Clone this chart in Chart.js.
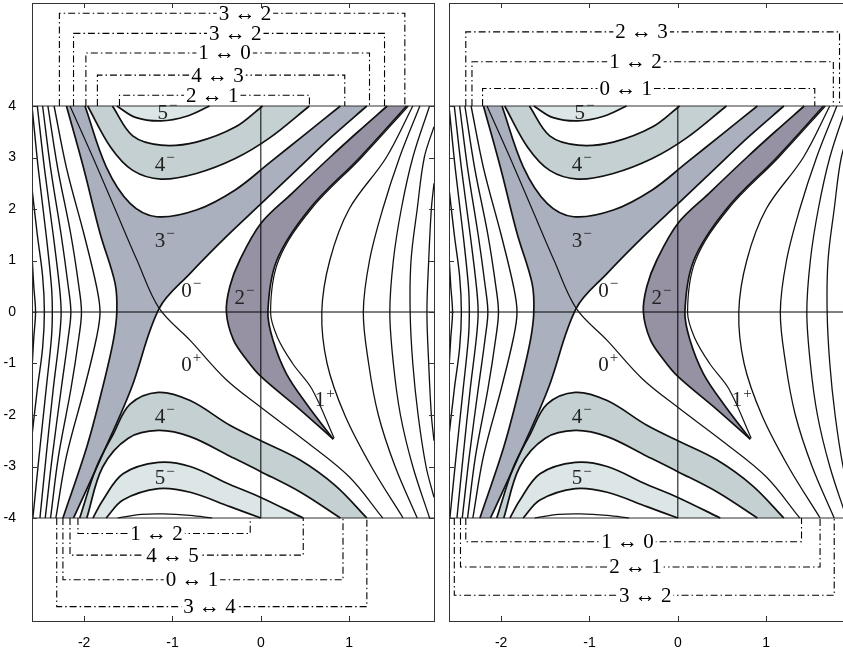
<!DOCTYPE html>
<html>
<head>
<meta charset="utf-8">
<script src="https://cdn.jsdelivr.net/npm/chart.js@4.4.1/dist/chart.umd.min.js"></script>
<style>
  html, body { margin: 0; padding: 0; background: #fff; overflow: hidden; }
  #wrap { position: relative; width: 843px; height: 651px; overflow: hidden; }
  #leftChart { position: absolute; left: 0; top: 0; }
  #rightChart { position: absolute; left: 440px; top: 0; }
</style>
</head>
<body>
<div id="wrap">
  <canvas id="leftChart" width="440" height="651"></canvas>
  <canvas id="rightChart" width="414" height="651"></canvas>
</div>
<script>
// axes
const xTicks = [-2, -1, 0, 1];
const yTicks = [-4, -3, -2, -1, 0, 1, 2, 3, 4];
const xRange = [-2.59, 1.96];
const yRange = [-6, 6];

// thin contour lines, left side
const leftFamily = [
  [[-2.59, 1.1], [-2.57, 0.5], [-2.55, 0], [-2.57, -0.5], [-2.59, -1.1]],
  [[-2.59, 2.4], [-2.53, 1.5], [-2.47, 0.7], [-2.45, 0], [-2.47, -0.7], [-2.53, -1.5], [-2.59, -2.4]],
  [[-2.59, 4], [-2.52, 2.8], [-2.43, 1.5], [-2.37, 0.5], [-2.36, 0], [-2.37, -0.5], [-2.43, -1.5], [-2.51, -2.8], [-2.58, -4]],
  [[-2.53, 4], [-2.45, 2.8], [-2.35, 1.5], [-2.28, 0.5], [-2.26, 0], [-2.28, -0.5], [-2.35, -1.5], [-2.43, -2.8], [-2.5, -4]],
  [[-2.47, 4], [-2.38, 2.8], [-2.26, 1.5], [-2.18, 0.5], [-2.15, 0], [-2.18, -0.5], [-2.26, -1.5], [-2.36, -2.8], [-2.44, -4]],
  [[-2.41, 4], [-2.3, 2.8], [-2.15, 1.5], [-2.06, 0.5], [-2.03, 0], [-2.06, -0.5], [-2.15, -1.5], [-2.29, -2.8], [-2.38, -4]],
  [[-2.34, 4], [-2.2, 2.8], [-2.0, 1.5], [-1.86, 0.5], [-1.82, 0], [-1.86, -0.5], [-2.0, -1.5], [-2.2, -2.8], [-2.32, -4]]
];

// thin contour lines, right side
const rightFamily = [
  [[1.72, 4], [1.42, 3], [1.0, 2], [0.78, 1], [0.69, 0], [0.75, -1], [0.95, -2], [1.25, -3], [1.61, -4]],
  [[1.8, 4], [1.57, 3], [1.38, 2], [1.23, 1], [1.16, 0], [1.22, -1], [1.33, -2], [1.52, -3], [1.77, -4]],
  [[1.91, 4], [1.72, 3], [1.59, 2], [1.5, 1], [1.46, 0], [1.5, -1], [1.58, -2], [1.72, -3], [1.91, -4]],
  [[1.96, 3.6], [1.85, 3], [1.77, 2], [1.7, 1], [1.69, 0], [1.72, -1], [1.78, -2], [1.87, -3], [1.96, -3.6]],
  [[1.96, 2.5], [1.93, 2], [1.9, 1], [1.88, 0], [1.9, -1], [1.93, -2], [1.96, -2.5]]
];

// boundaries of the shaded regions
const GL = [[-2.2, 4], [-2.01, 2.82], [-1.82, 1.53], [-1.65, 0.56], [-1.63, 0], [-1.67, -0.56], [-1.8, -1.53], [-1.97, -2.62], [-2.24, -4]];
const L2 = [[-2.12, -4], [-1.8, -2.8], [-1.47, -1.5], [-1.15, 0.07], [-0.8, 0.75], [-0.4, 1.45], [0, 2.1], [0.4, 2.75], [0.8, 3.4], [1.2, 4]];
const L1 = [[-2.16, 4], [-1.9, 3], [-1.65, 2], [-1.4, 1], [-1.15, 0.07], [-0.8, -0.55], [-0.4, -1.3], [0, -1.85], [0.5, -2.5], [1.0, -3.2], [1.38, -4]];
const U3 = [[-1.99, 4], [-1.75, 2.82], [-1.48, 2.11], [-1.18, 1.85], [-0.73, 1.98], [-0.29, 2.37], [0.1, 2.9], [0.5, 3.45], [0.9, 4]];
const U4b = [[-1.96, 4], [-1.7, 3.2], [-1.45, 2.75], [-1.13, 2.58], [-0.73, 2.69], [-0.29, 2.98], [0.1, 3.38], [0.55, 4]];
const U4a = [[-1.68, 4], [-1.45, 3.42], [-1.13, 3.24], [-0.73, 3.3], [-0.29, 3.59], [0.02, 4]];
const U5 = [[-1.63, 4], [-1.42, 3.78], [-1.13, 3.71], [-0.84, 3.8], [-0.58, 4]];
const B1 = [[1.43, 4], [1.1, 3.5], [0.78, 3.0], [0.35, 2.3], [0, 1.72], [-0.24, 1.0], [-0.35, 0.5], [-0.39, 0], [-0.31, -0.54], [-0.15, -0.95], [0, -1.25], [0.44, -1.89], [0.82, -2.47]];
const B2 = [[1.65, 4], [1.12, 3], [0.55, 2], [0.18, 1], [0.08, 0], [0.14, -0.56], [0.29, -1.2], [0.52, -1.79], [0.82, -2.47]];
const B3 = [[1.67, 4], [1.14, 3], [0.57, 2], [0.2, 1], [0.11, 0], [0.19, -0.5], [0.36, -1.0], [0.58, -1.5], [0.83, -2.45]];
const D4a = [[-2.05, -4], [-1.86, -3.01], [-1.67, -2.37], [-1.48, -1.79], [-1.16, -1.56], [-0.8, -1.72], [-0.35, -2.2], [0, -2.5], [0.44, -2.87], [0.85, -3.38], [1.2, -4]];
const D4b = [[-1.97, -4], [-1.79, -3.01], [-1.5, -2.45], [-1.16, -2.3], [-0.8, -2.42], [-0.35, -2.8], [0, -3.1], [0.45, -3.5], [0.9, -4]];
const D5a = [[-1.9, -4], [-1.79, -3.66], [-1.56, -3.14], [-1.16, -2.92], [-0.8, -3.0], [-0.35, -3.35], [0, -3.6], [0.48, -4]];
const D5b = [[-1.75, -4], [-1.56, -3.65], [-1.16, -3.43], [-0.8, -3.5], [-0.35, -3.78], [0, -4]];
const D6 = [[-1.62, -4], [-1.35, -3.93], [-1.1, -3.92], [-0.8, -3.95], [-0.55, -4]];

// region labels
const regionNames = ['5', '4', '3', '0', '2', '0', '1', '4', '5'];
const regionSigns = ['\u2212', '\u2212', '\u2212', '\u2212', '\u2212', '+', '+', '\u2212', '\u2212'];
const regionAt = [[-1.11, 3.86], [-1.14, 2.85], [-1.14, 1.37], [-0.84, 0.4], [-0.24, 0.27], [-0.84, -1.04], [0.67, -1.72], [-1.14, -2.04], [-1.14, -3.24]];

// brackets: [text, level, from, to, text position]
const leftTop = [
  ['3 \u2194 2', 5.80, -2.28, 1.63, -0.18],
  ['3 \u2194 2', 5.41, -2.12, 1.40, -0.29],
  ['1 \u2194 0', 5.03, -1.98, 1.23, -0.41],
  ['4 \u2194 3', 4.60, -1.85, 0.95, -0.49],
  ['2 \u2194 1', 4.21, -1.60, 0.55, -0.55]
];
const leftBottom = [
  ['1 \u2194 2', -4.30, -2.07, -0.12, -1.18],
  ['4 \u2194 5', -4.72, -2.16, 0.48, -1.0],
  ['0 \u2194 1', -5.20, -2.24, 0.93, -0.78],
  ['3 \u2194 4', -5.72, -2.31, 1.20, -0.58]
];
const rightTop = [
  ['2 \u2194 3', 5.44, -2.40, 1.83, -0.41],
  ['1 \u2194 2', 4.86, -2.33, 1.76, -0.48],
  ['0 \u2194 1', 4.34, -2.21, 1.55, -0.59]
];
const rightBottom = [
  ['1 \u2194 0', -4.46, -2.40, 1.40, -0.57],
  ['2 \u2194 1', -4.95, -2.46, 1.61, -0.48],
  ['3 \u2194 2', -5.50, -2.53, 1.77, -0.37]
];

const fill2 = '#9692a3';
const fill3 = '#aab0be';
const fill4 = '#c5d0d3';
const fill5 = '#dde6e6';

const xy = pts => pts.map(([x, y]) => ({x, y}));
const rev = pts => pts.slice().reverse();

// closed outline from several boundary pieces; end points doubled so corners stay sharp
function closedShape(...parts) {
    const out = [];
    parts.forEach(p => { out.push(p[0], ...p, p[p.length - 1]); });
    return xy(out);
}

function buildDatasets(top, bottom) {
    const sets = [];
    const shade = (color, ...parts) => sets.push({
        data: closedShape(...parts), fill: 'shape', backgroundColor: color,
        borderWidth: 0, pointRadius: 0, tension: 0.35, order: 3
    });
    const curve = (pts, width) => sets.push({
        data: xy(pts), fill: false, borderColor: '#111', borderWidth: width,
        pointRadius: 0, tension: 0.35, order: 2
    });
    const straight = (pts, width, color) => sets.push({
        data: xy(pts), fill: false, borderColor: color, borderWidth: width,
        pointRadius: 0, tension: 0, order: 2
    });
    const bracket = ([, level, from, to]) => {
        const edge = level > 0 ? 4 : -4;
        sets.push({
            data: xy([[from, edge], [from, level], [to, level], [to, edge]]),
            fill: false, borderColor: '#000', borderWidth: 1.1, borderDash: [7, 3, 1.5, 3],
            pointRadius: 0, tension: 0, order: 1
        });
    };

    shade(fill3, GL, L2, rev(U3));
    shade(fill4, U4b, rev(U4a));
    shade(fill5, U5);
    shade(fill2, B1, rev(B2));
    shade(fill4, D4a, rev(D4b));
    shade(fill5, D5a, rev(D5b));

    leftFamily.forEach(c => curve(c, 1.4));
    rightFamily.forEach(c => curve(c, 1.3));
    [L1, B3, D6].forEach(c => curve(c, 1.2));
    [GL, L2, U3, U4a, U4b, U5, B1, B2, D4a, D4b, D5a, D5b].forEach(c => curve(c, 1.7));

    straight([[0, -4], [0, 4]], 1, '#000');
    straight([[xRange[0], 0], [xRange[1], 0]], 1, '#000');
    straight([[xRange[0], 4], [xRange[1], 4]], 1, '#333');
    straight([[xRange[0], -4], [xRange[1], -4]], 1, '#333');

    top.forEach(bracket);
    bottom.forEach(bracket);
    return sets;
}

const framePlugin = {
    id: 'frame',
    afterDraw(chart) {
        const {ctx, chartArea: a, scales: {x, y}} = chart;
        ctx.save();
        ctx.strokeStyle = '#333';
        ctx.lineWidth = 1;
        ctx.beginPath();
        xTicks.forEach(v => {
            const px = Math.round(x.getPixelForValue(v)) + 0.5;
            ctx.moveTo(px, a.bottom); ctx.lineTo(px, a.bottom - 5);
            ctx.moveTo(px, a.top); ctx.lineTo(px, a.top + 5);
        });
        yTicks.forEach(v => {
            const py = Math.round(y.getPixelForValue(v)) + 0.5;
            ctx.moveTo(a.left, py); ctx.lineTo(a.left + 5, py);
            ctx.moveTo(a.right, py); ctx.lineTo(a.right - 5, py);
        });
        ctx.stroke();
        ctx.strokeRect(Math.round(a.left) + 0.5, Math.round(a.top) + 0.5,
            Math.round(a.right - a.left), Math.round(a.bottom - a.top));
        ctx.restore();
    }
};

const labelPlugin = {
    id: 'labels',
    afterDatasetsDraw(chart, args, opts) {
        const {ctx, scales: {x, y}} = chart;
        ctx.save();
        ctx.textBaseline = 'middle';
        // bracket captions
        ctx.font = '21px "Liberation Serif", serif';
        ctx.textAlign = 'center';
        opts.rows.forEach(([txt, level, , , tx]) => {
            const px = x.getPixelForValue(tx);
            const py = y.getPixelForValue(level);
            const w = ctx.measureText(txt).width;
            ctx.fillStyle = '#fff';
            ctx.fillRect(px - w / 2 - 2, py - 8, w + 4, 16);
            ctx.fillStyle = '#000';
            ctx.fillText(txt, px, py + 1);
        });
        // region names
        regionNames.forEach((n, i) => {
            const px = x.getPixelForValue(regionAt[i][0]);
            const py = y.getPixelForValue(regionAt[i][1]);
            ctx.fillStyle = '#222';
            ctx.font = '21px "Liberation Serif", serif';
            ctx.textAlign = 'center';
            ctx.fillText(n, px, py);
            const w = ctx.measureText(n).width;
            ctx.font = '15px "Liberation Serif", serif';
            ctx.textAlign = 'left';
            ctx.fillText(regionSigns[i], px + w / 2 + 1, py - 7);
        });
        ctx.restore();
    }
};

function makeChart(id, top, bottom, showY) {
    const tickFont = {family: '"Liberation Sans", Arial, sans-serif', size: 14};
    return new Chart(document.getElementById(id), {
        type: 'line',
        data: {datasets: buildDatasets(top, bottom)},
        options: {
            responsive: false,
            animation: false,
            events: [],
            layout: {padding: showY ? {top: 3, right: 6, left: 0, bottom: 0} : {top: 3, right: 3, left: 9, bottom: 0}},
            plugins: {
                legend: {display: false},
                tooltip: {enabled: false},
                labels: {rows: top.concat(bottom)}
            },
            scales: {
                x: {
                    type: 'linear', min: xRange[0], max: xRange[1],
                    afterBuildTicks: s => { s.ticks = xTicks.map(v => ({value: v})); },
                    afterFit: s => { s.height = 30; s.paddingLeft = 0; s.paddingRight = 0; },
                    grid: {display: false},
                    border: {display: false},
                    ticks: {color: '#000', font: tickFont, padding: 6, maxRotation: 0, autoSkip: false}
                },
                y: {
                    type: 'linear', min: yRange[0], max: yRange[1],
                    display: showY,
                    afterBuildTicks: s => { s.ticks = yTicks.map(v => ({value: v})); },
                    afterFit: s => { s.width = showY ? 32 : 0; s.paddingTop = 0; s.paddingBottom = 0; },
                    grid: {display: false},
                    border: {display: false},
                    ticks: {color: '#000', font: tickFont, padding: 8}
                }
            }
        },
        plugins: [labelPlugin, framePlugin]
    });
}

makeChart('leftChart', leftTop, leftBottom, true);
makeChart('rightChart', rightTop, rightBottom, false);
</script>
</body>
</html>
